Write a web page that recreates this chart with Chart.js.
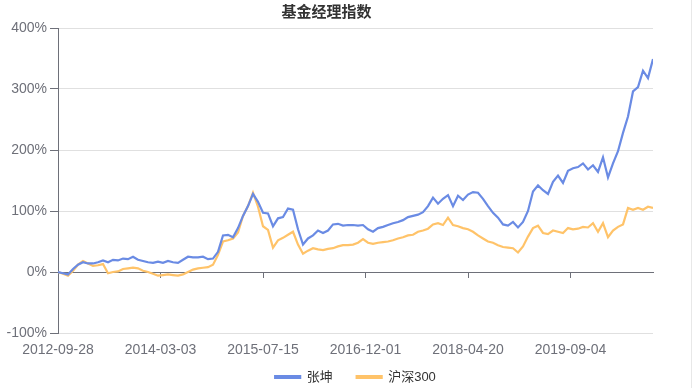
<!DOCTYPE html>
<html>
<head>
<meta charset="utf-8">
<title>基金经理指数</title>
<script src="https://cdn.jsdelivr.net/npm/chart.js@4.4.1/dist/chart.umd.min.js"></script>
<style>
  html, body { margin: 0; padding: 0; background: #fff; }
  #wrap { position: relative; width: 700px; height: 388px; }
  #edge { position: absolute; left: 691px; top: 0; width: 1px; height: 388px; background: #e8e8e8; }
</style>
</head>
<body>
<div id="wrap">
  <canvas id="myChart" width="700" height="388"></canvas>
  <div id="edge"></div>
</div>
<script>
// Fechas que aparecen en el eje x
const tickLabels = ['2012-09-28', '2014-03-03', '2015-07-15', '2016-12-01', '2018-04-20', '2019-09-04'];
const samplesPerTick = 20.5; // muestras entre dos fechas del eje

// Rentabilidad acumulada (%)
const zhangKun = [
    0, -2, -4, 5, 12, 16, 14, 14, 16, 19,
    16, 20, 19, 22, 21, 25, 20, 18, 16, 15,
    17, 15, 18, 16, 15, 20, 25, 24, 24, 25,
    21, 22, 33, 60, 61, 57, 72, 92, 108, 128,
    115, 97, 96, 75, 88, 90, 104, 102, 70, 45,
    55, 60, 68, 64, 68, 78, 79, 76, 77, 77,
    76, 77, 70, 66, 72, 74, 77, 80, 82, 85,
    90, 92, 94, 98, 108, 122, 112, 120, 126, 108,
    125, 118, 127, 131, 130, 120, 108, 97, 89, 78,
    76, 82, 73, 82, 100, 132, 142, 134, 128, 148,
    158, 146, 166, 170, 172, 178, 168, 175, 164, 188,
    155, 178, 198, 228, 255, 296, 303, 330, 318, 349
];

const hs300 = [
    0, -3, -6, 2, 12, 18, 14, 10, 11, 13,
    -2, 0, 1, 5, 6, 7, 6, 2, 0, -3,
    -6, -5, -4, -5, -6, -4, 0, 4, 6, 7,
    8, 12, 28, 50, 52, 55, 65, 92, 108, 130,
    107, 75, 69, 40, 52, 56, 61, 66, 45, 30,
    35, 39, 37, 36, 38, 39, 42, 44, 44, 45,
    48, 54, 48, 46, 48, 49, 50, 52, 55, 57,
    60, 61, 66, 68, 71, 78, 80, 77, 89, 77,
    75, 72, 70, 66, 60, 55, 50, 48, 44, 41,
    40, 39, 32, 42, 58, 72, 76, 64, 62, 68,
    66, 64, 72, 70, 71, 74, 73, 80, 66, 80,
    57, 68, 74, 78, 105, 102, 105, 102, 107, 105
];

const axisColor = '#6e7079';
const gridColor = '#e0e0e0';
const fontFamily = "'Liberation Sans', 'Noto Sans CJK SC', sans-serif";

function placeTicks(scale) {
    scale.ticks = tickLabels.map((t, i) => ({ value: i * samplesPerTick }));
}

const ctx = document.getElementById('myChart').getContext('2d');

const myChart = new Chart(ctx, {
    type: 'line',
    data: {
        datasets: [
            {
                label: '张坤',
                data: zhangKun.map((v, i) => ({ x: i, y: v })),
                borderColor: '#6a8be4',
                backgroundColor: '#6a8be4',
                borderWidth: 2.2,
                xAxisID: 'x',
                yAxisID: 'y'
            },
            {
                label: '沪深300',
                data: hs300.map((v, i) => ({ x: i, y: v })),
                borderColor: '#ffc369',
                backgroundColor: '#ffc369',
                borderWidth: 2.2,
                xAxisID: 'x',
                yAxisID: 'y'
            }
        ]
    },
    options: {
        responsive: false,
        animation: false,
        devicePixelRatio: 1,
        layout: { padding: { top: 0, right: 47, bottom: 0, left: 0 } },
        elements: {
            point: { radius: 0 },
            line: { tension: 0 }
        },
        plugins: {
            title: {
                display: true,
                text: '基金经理指数',
                color: '#333',
                font: { family: fontFamily, size: 15, weight: 'bold' },
                padding: { top: 4, bottom: 6 }
            },
            legend: {
                position: 'bottom',
                fullSize: false,
                maxHeight: 41.5,
                labels: {
                    boxWidth: 25,
                    boxHeight: 2,
                    padding: 24,
                    color: '#333',
                    font: { family: fontFamily, size: 13 }
                }
            },
            tooltip: { enabled: false }
        },
        scales: {
            // eje x sobre la linea del 0 %, con las fechas abajo del todo
            x: {
                axis: 'x',
                type: 'linear',
                position: { y: 0 },
                min: 0,
                max: zhangKun.length - 1,
                afterBuildTicks: placeTicks,
                afterFit: (scale) => {
                    scale.paddingLeft = 0;
                    scale.paddingRight = 0;
                },
                grid: { drawOnChartArea: false, color: axisColor, tickLength: 5 },
                border: { color: axisColor, width: 1 },
                ticks: {
                    autoSkip: false,
                    maxRotation: 0,
                    padding: 65,
                    color: axisColor,
                    font: { family: fontFamily, size: 14 },
                    callback: (value, index) => tickLabels[index]
                }
            },
            // solo reserva el hueco entre el grafico y la leyenda
            gap: {
                axis: 'x',
                type: 'linear',
                position: 'bottom',
                min: 0,
                max: 1,
                afterFit: (scale) => { scale.height = 13.5; },
                grid: { display: false, drawTicks: false },
                border: { display: false },
                ticks: { display: false }
            },
            y: {
                min: -100,
                max: 400,
                afterFit: (scale) => { scale.width = 58; },
                grid: {
                    color: (c) => c.tick && c.tick.value === 0 ? axisColor : gridColor,
                    tickColor: axisColor,
                    tickLength: 8
                },
                border: { color: axisColor, width: 1 },
                ticks: {
                    stepSize: 100,
                    padding: 3,
                    color: axisColor,
                    font: { family: fontFamily, size: 14 },
                    callback: (value) => value + '%'
                }
            }
        }
    }
});
</script>
</body>
</html>
